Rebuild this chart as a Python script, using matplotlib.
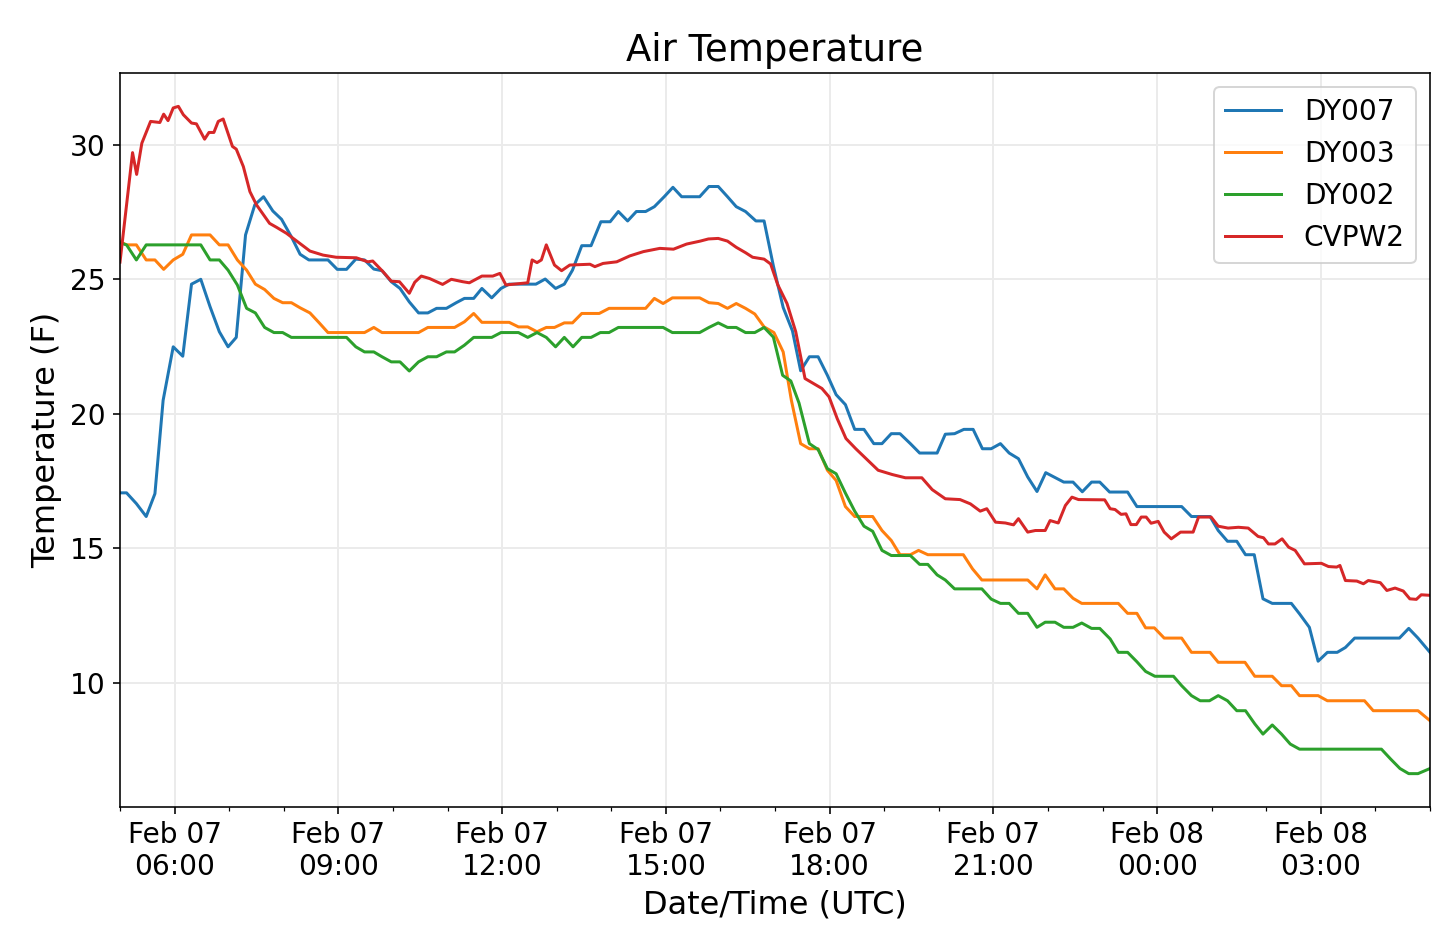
import matplotlib
matplotlib.use("Agg")
import matplotlib.pyplot as plt
import matplotlib.dates as mdates
import numpy as np
import pandas as pd

# start of the record, hours below are offsets from this time
start = pd.Timestamp("2019-02-07 05:00")

# DY007
dy007_h = [0.00, 0.12, 0.30, 0.48, 0.64, 0.79, 0.975, 1.15, 1.31, 1.48, 1.65, 1.82, 1.98, 2.13,
           2.30, 2.47, 2.63, 2.80, 2.96, 3.14, 3.30, 3.46, 3.81, 3.98, 4.15, 4.32, 4.48, 4.65,
           4.80, 4.97, 5.13, 5.30, 5.47, 5.64, 5.80, 5.98, 6.16, 6.31, 6.48, 6.63, 6.81, 6.98,
           7.13, 7.62, 7.79, 7.98, 8.14, 8.29, 8.46, 8.63, 8.81, 8.98, 9.13, 9.30, 9.46, 9.63,
           9.79, 9.97, 10.13, 10.29, 10.62, 10.79, 10.96, 11.13, 11.29, 11.46, 11.65, 11.80,
           11.97, 12.15, 12.32, 12.47, 12.63, 12.79, 12.96, 13.12, 13.29, 13.46, 13.63, 13.81,
           13.96, 14.13, 14.29, 14.48, 14.65, 14.97, 15.12, 15.29, 15.46, 15.63, 15.80, 15.96,
           16.13, 16.29, 16.46, 16.63, 16.80, 16.96, 17.13, 17.29, 17.46, 17.63, 17.80, 17.95,
           18.13, 18.46, 18.63, 19.45, 19.63, 19.97, 20.12, 20.29, 20.46, 20.62, 20.78, 20.94,
           21.11, 21.46, 21.61, 21.79, 21.95, 22.12, 22.30, 22.45, 22.62, 23.44, 23.61, 23.78,
           24.00]
dy007_t = [17.06, 17.06, 16.66, 16.18, 17.03, 20.5, 22.49, 22.14, 24.82, 25.0, 23.98, 23.05, 22.49, 22.84,
           26.65, 27.77, 28.07, 27.54, 27.23, 26.58, 25.93, 25.72, 25.72, 25.37, 25.37, 25.75, 25.72, 25.38,
           25.32, 24.91, 24.66, 24.16, 23.75, 23.75, 23.92, 23.92, 24.13, 24.29, 24.29, 24.66, 24.31, 24.66,
           24.82, 24.82, 25.01, 24.66, 24.82, 25.34, 26.25, 26.25, 27.14, 27.14, 27.52, 27.17, 27.52, 27.52,
           27.70, 28.07, 28.42, 28.07, 28.07, 28.45, 28.45, 28.07, 27.70, 27.52, 27.17, 27.17,
           25.5, 23.95, 23.08, 21.6, 22.12, 22.12, 21.43, 20.71, 20.34, 19.42, 19.42, 18.89,
           18.89, 19.26, 19.26, 18.89, 18.54, 18.54, 19.24, 19.26, 19.42, 19.42, 18.70, 18.70,
           18.89, 18.54, 18.33, 17.65, 17.11, 17.81, 17.63, 17.46, 17.46, 17.10, 17.46, 17.46,
           17.09, 17.09, 16.55, 16.55, 16.18, 16.18, 15.66, 15.26, 15.26, 14.76, 14.76, 13.12,
           12.95, 12.95, 12.56, 12.06, 10.80, 11.13, 11.13, 11.31, 11.66, 11.66, 12.02, 11.66,
           11.13]

# DY003
dy003_h = [0.00, 0.12, 0.30, 0.48, 0.64, 0.80, 0.975, 1.15, 1.31, 1.65, 1.82, 1.98, 2.15, 2.32,
           2.48, 2.65, 2.82, 2.98, 3.14, 3.30, 3.48, 3.65, 3.81, 4.48, 4.65, 4.80, 5.47, 5.64,
           6.13, 6.31, 6.48, 6.63, 7.13, 7.30, 7.47, 7.64, 7.81, 7.96, 8.14, 8.29, 8.46, 8.78,
           8.96, 9.63, 9.79, 9.95, 10.12, 10.62, 10.79, 10.96, 11.13, 11.29, 11.46, 11.63, 11.80,
           11.98, 12.15, 12.30, 12.47, 12.63, 12.79, 12.96, 13.12, 13.29, 13.46, 13.79, 13.96,
           14.13, 14.29, 14.48, 14.63, 14.80, 15.45, 15.62, 15.79, 16.63, 16.80, 16.95, 17.13,
           17.29, 17.46, 17.62, 18.29, 18.46, 18.63, 18.79, 18.95, 19.13, 19.45, 19.63, 19.97,
           20.12, 20.61, 20.79, 21.11, 21.28, 21.46, 21.61, 21.95, 22.12, 22.80, 22.96, 23.78,
           24.00]
dy003_t = [26.4, 26.28, 26.28, 25.72, 25.72, 25.37, 25.72, 25.93, 26.65, 26.65, 26.28, 26.28, 25.72, 25.34,
           24.82, 24.62, 24.29, 24.13, 24.13, 23.94, 23.75, 23.38, 23.02, 23.02, 23.21, 23.02, 23.02, 23.21,
           23.21, 23.42, 23.73, 23.40, 23.40, 23.23, 23.23, 23.05, 23.21, 23.21, 23.38, 23.38, 23.73, 23.73,
           23.92, 23.92, 24.29, 24.10, 24.31, 24.31, 24.13, 24.10, 23.92, 24.10, 23.92, 23.71, 23.23,
           23.02, 22.30, 20.5, 18.89, 18.70, 18.70, 17.90, 17.52, 16.55, 16.18, 16.18, 15.66,
           15.29, 14.76, 14.76, 14.92, 14.76, 14.76, 14.23, 13.82, 13.82, 13.49, 14.01, 13.49,
           13.49, 13.14, 12.95, 12.95, 12.58, 12.58, 12.04, 12.04, 11.66, 11.66, 11.13, 11.13,
           10.76, 10.76, 10.24, 10.24, 9.89, 9.89, 9.52, 9.52, 9.33, 9.33, 8.96, 8.96,
           8.59]

# DY002
dy002_h = [0.00, 0.12, 0.30, 0.48, 1.48, 1.65, 1.82, 1.98, 2.15, 2.32, 2.48, 2.65, 2.82, 2.98,
           3.14, 4.15, 4.32, 4.48, 4.65, 4.80, 4.97, 5.13, 5.30, 5.47, 5.64, 5.80, 5.98, 6.13,
           6.31, 6.48, 6.81, 6.98, 7.30, 7.47, 7.64, 7.81, 7.98, 8.14, 8.30, 8.46, 8.63, 8.80,
           8.96, 9.13, 9.95, 10.12, 10.62, 10.79, 10.96, 11.13, 11.29, 11.46, 11.63, 11.80,
           11.97, 12.14, 12.29, 12.44, 12.63, 12.79, 12.96, 13.12, 13.29, 13.46, 13.63, 13.79,
           13.96, 14.13, 14.48, 14.65, 14.80, 14.97, 15.12, 15.29, 15.79, 15.96, 16.13, 16.29,
           16.46, 16.63, 16.80, 16.95, 17.13, 17.29, 17.46, 17.62, 17.80, 17.95, 18.14, 18.29,
           18.46, 18.63, 18.79, 18.96, 19.30, 19.45, 19.63, 19.79, 19.96, 20.12, 20.29, 20.46,
           20.62, 20.79, 20.94, 21.11, 21.28, 21.44, 21.61, 23.11, 23.28, 23.45, 23.61, 23.78,
           24.00]
dy002_t = [26.36, 26.28, 25.72, 26.28, 26.28, 25.72, 25.72, 25.34, 24.79, 23.92, 23.75, 23.21, 23.02, 23.02,
           22.84, 22.84, 22.49, 22.30, 22.30, 22.12, 21.93, 21.93, 21.59, 21.93, 22.12, 22.12, 22.30, 22.30,
           22.55, 22.84, 22.84, 23.02, 23.02, 22.84, 23.02, 22.84, 22.49, 22.84, 22.49, 22.84, 22.84, 23.02,
           23.02, 23.21, 23.21, 23.02, 23.02, 23.21, 23.38, 23.21, 23.21, 23.02, 23.02, 23.21,
           22.85, 21.43, 21.22, 20.40, 18.89, 18.67, 17.96, 17.77, 17.05, 16.38, 15.82, 15.63,
           14.92, 14.73, 14.73, 14.40, 14.40, 14.01, 13.82, 13.49, 13.49, 13.11, 12.95, 12.95,
           12.58, 12.58, 12.06, 12.25, 12.25, 12.06, 12.06, 12.22, 12.02, 12.02, 11.63, 11.13,
           11.13, 10.78, 10.42, 10.24, 10.24, 9.89, 9.52, 9.33, 9.33, 9.52, 9.33, 8.96,
           8.96, 8.47, 8.09, 8.43, 8.09, 7.72, 7.53, 7.53, 7.16, 6.81, 6.62, 6.62,
           6.81]

# CVPW2
cvpw2_h = [0.00, 0.23, 0.305, 0.40, 0.56, 0.73, 0.80, 0.88, 0.975, 1.07, 1.16, 1.31, 1.40, 1.55,
           1.63, 1.72, 1.80, 1.89, 2.06, 2.13, 2.26, 2.38, 2.50, 2.74, 2.87, 3.05, 3.29, 3.48,
           3.72, 3.96, 4.33, 4.54, 4.63, 4.82, 4.97, 5.12, 5.30, 5.40, 5.52, 5.67, 5.91, 6.07,
           6.28, 6.40, 6.63, 6.83, 6.96, 7.07, 7.47, 7.55, 7.64, 7.72, 7.81, 7.96, 8.09, 8.24,
           8.61, 8.70, 8.85, 9.10, 9.34, 9.59, 9.89, 10.14, 10.38, 10.63, 10.78, 10.96, 11.13,
           11.29, 11.46, 11.59, 11.80, 11.92, 12.05, 12.22, 12.38, 12.55, 12.70, 12.86, 12.99,
           13.14, 13.30, 13.48, 13.69, 13.89, 14.15, 14.39, 14.69, 14.88, 15.12, 15.39, 15.58,
           15.76, 15.88, 16.04, 16.22, 16.37, 16.46, 16.63, 16.77, 16.95, 17.04, 17.19, 17.32,
           17.44, 17.56, 18.04, 18.14, 18.23, 18.34, 18.43, 18.52, 18.62, 18.71, 18.80, 18.89,
           19.02, 19.13, 19.26, 19.43, 19.66, 19.76, 19.99, 20.12, 20.30, 20.49, 20.67, 20.85,
           20.95, 21.04, 21.16, 21.29, 21.41, 21.53, 21.70, 22.01, 22.14, 22.29, 22.35, 22.45,
           22.66, 22.78, 22.87, 23.09, 23.21, 23.36, 23.51, 23.63, 23.75, 23.84, 24.00]
cvpw2_t = [25.64, 29.71, 28.9, 30.06, 30.87, 30.83, 31.14, 30.9, 31.37, 31.43, 31.12, 30.81, 30.78, 30.21,
           30.46, 30.46, 30.87, 30.96, 29.94, 29.84, 29.19, 28.26, 27.77, 27.08, 26.93, 26.71, 26.34, 26.05,
           25.90, 25.82, 25.80, 25.65, 25.68, 25.28, 24.93, 24.91, 24.48, 24.89, 25.12, 25.03, 24.81, 25.00,
           24.91, 24.87, 25.12, 25.12, 25.22, 24.79, 24.87, 25.72, 25.62, 25.72, 26.28, 25.53, 25.32, 25.53,
           25.56, 25.47, 25.59, 25.65, 25.87, 26.03, 26.15, 26.12, 26.31, 26.42, 26.50, 26.52, 26.42,
           26.19, 25.99, 25.82, 25.75, 25.57, 24.80, 24.10, 23.05, 21.31, 21.13, 20.94, 20.63,
           19.82, 19.08, 18.70, 18.29, 17.90, 17.74, 17.62, 17.62, 17.18, 16.84, 16.81, 16.65,
           16.38, 16.47, 15.97, 15.94, 15.87, 16.10, 15.60, 15.66, 15.66, 16.03, 15.94, 16.59,
           16.90, 16.81, 16.80, 16.47, 16.44, 16.26, 16.28, 15.88, 15.88, 16.16, 16.16, 15.93,
           16.00, 15.60, 15.35, 15.60, 15.60, 16.16, 16.16, 15.82, 15.75, 15.78, 15.75, 15.44,
           15.39, 15.16, 15.16, 15.35, 15.04, 14.92, 14.42, 14.44, 14.32, 14.30, 14.36, 13.80,
           13.78, 13.68, 13.80, 13.72, 13.43, 13.52, 13.41, 13.12, 13.10, 13.27, 13.25]

stations = ["DY007", "DY003", "DY002", "CVPW2"]
series = [(dy007_h, dy007_t), (dy003_h, dy003_t), (dy002_h, dy002_t), (cvpw2_h, cvpw2_t)]

plt.rcParams['font.size'] = 14

fig = plt.figure(figsize=(10, 931 / 144), dpi=144)
ax = fig.add_axes([120 / 1440, 1 - 807 / 931, 1310 / 1440, 734 / 931])

for name, (hrs, temps) in zip(stations, series):
    times = start + pd.to_timedelta(np.array(hrs), unit='h')
    ax.plot(times, temps, label=name, linewidth=1.5)

ax.set_xlim(start, start + pd.Timedelta(hours=24))
ax.xaxis.set_major_locator(mdates.HourLocator(byhour=range(0, 24, 3)))
ax.xaxis.set_minor_locator(mdates.HourLocator())
ax.xaxis.set_major_formatter(mdates.DateFormatter('%b %d\n%H:%M'))

ax.grid(True, color='#ebebeb', linewidth=1.0)
ax.set_title('Air Temperature', fontsize=18.5)
ax.set_xlabel('Date/Time (UTC)', fontsize=16)
ax.set_ylabel('Temperature (F)', fontsize=16)
ax.legend(loc='upper right')

fig.savefig('out.png', dpi=144)
